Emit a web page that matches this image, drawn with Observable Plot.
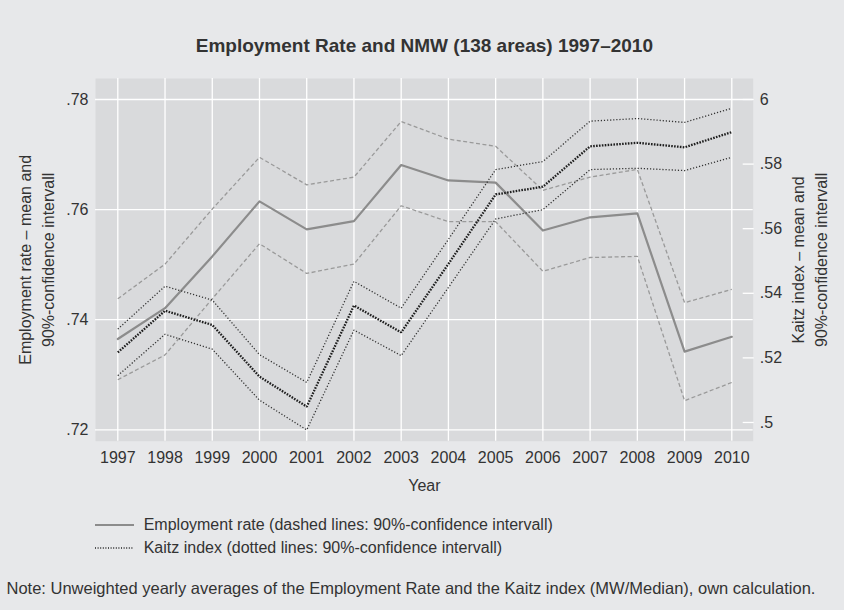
<!DOCTYPE html>
<html><head><meta charset="utf-8">
<script src="https://cdn.jsdelivr.net/npm/d3@7"></script>
<script src="https://cdn.jsdelivr.net/npm/@observablehq/plot@0.6"></script>
<style>
html,body{margin:0;padding:0;background:#e7e8ea;}
body{width:844px;height:610px;overflow:hidden;font-family:"Liberation Sans",Arial,sans-serif;color:#333;}
#chart svg{display:block;}
#below{position:relative;width:844px;height:105px;}
.row{position:absolute;height:20px;line-height:20px;font-size:16px;white-space:nowrap;}
.row svg{position:absolute;left:0;top:8px;}
.row span{position:absolute;left:49px;}
</style></head>
<body>
<div id="chart"></div>
<div id="below">
  <div class="row" style="left:94.7px;top:10px;"><svg width="40" height="4"><line x1="0" y1="2" x2="39" y2="2" stroke="#8c8c8c" stroke-width="2"/></svg><span>Employment rate (dashed lines: 90%-confidence intervall)</span></div>
  <div class="row" style="left:94.7px;top:33.3px;"><svg width="40" height="4"><line x1="0" y1="2" x2="39" y2="2" stroke="#222" stroke-width="1.3" stroke-dasharray="1,1.6"/></svg><span>Kaitz index (dotted lines: 90%-confidence intervall)</span></div>
  <div class="row" style="left:6.5px;top:72.7px;font-size:16.5px;">Note: Unweighted yearly averages of the Employment Rate and the Kaitz index (MW/Median), own calculation.</div>
</div>
<script>
const years = [1997,1998,1999,2000,2001,2002,2003,2004,2005,2006,2007,2008,2009,2010];
const empMean  = [0.7365,0.7421,0.7515,0.7615,0.7564,0.7579,0.7681,0.7653,0.7649,0.7562,0.7586,0.7593,0.7342,0.7369];
const empUpper = [0.7438,0.7501,0.7601,0.7695,0.7645,0.7659,0.7760,0.7728,0.7715,0.7635,0.7659,0.7673,0.7431,0.7455];
const empLower = [0.7291,0.7336,0.7438,0.7538,0.7484,0.7501,0.7607,0.7578,0.7578,0.7488,0.7513,0.7515,0.7253,0.7286];
const kaitzMean  = [0.5217,0.5346,0.5302,0.5142,0.5049,0.5362,0.5279,0.5491,0.5706,0.5730,0.5855,0.5866,0.5852,0.5899];
const kaitzUpper = [0.5289,0.5422,0.5379,0.5210,0.5124,0.5437,0.5354,0.5567,0.5783,0.5808,0.5933,0.5941,0.5929,0.5973];
const kaitzLower = [0.5145,0.5273,0.5227,0.5069,0.4977,0.5286,0.5207,0.5418,0.5630,0.5659,0.5783,0.5787,0.5780,0.5821];
const leftTicks = [0.72,0.74,0.76,0.78];
const leftTickLabels = [".72",".74",".76",".78"];
const kaitzTicks = [0.5,0.52,0.54,0.56,0.58,0.6];
const kaitzTickLabels = [".5",".52",".54",".56",".58","6"];

// right (Kaitz) axis aligned onto the left (employment) scale
const kToE = d3.scaleLinear().domain([0.5, 0.6]).range([0.72133, 0.78]);
const rightTicksE = kaitzTicks.map(k => kToE(k));

const rows = years.map((year, i) => ({
  year,
  empMean: empMean[i], empUpper: empUpper[i], empLower: empLower[i],
  kMean: kToE(kaitzMean[i]), kUpper: kToE(kaitzUpper[i]), kLower: kToE(kaitzLower[i])
}));

const font = "Liberation Sans, Arial, sans-serif";
const txt = "#333";
const butt = {strokeLinecap: "butt", strokeLinejoin: "miter"};

const chart = Plot.plot({
  width: 844,
  height: 505,
  marginLeft: 95,
  marginRight: 91.3,
  marginTop: 78,
  marginBottom: 64.3,
  style: {background: "transparent", fontFamily: font, fontSize: "16px", color: txt},
  x: {domain: [1997, 2010], insetLeft: 22.3, insetRight: 21.4},
  y: {domain: [0.72, 0.78], insetTop: 21, insetBottom: 11.4},
  marks: [
    Plot.frame({fill: "#d9dadc", stroke: null}),
    Plot.gridX(years, {stroke: "white", strokeOpacity: 1, strokeWidth: 1.3}),
    Plot.gridY(leftTicks, {stroke: "white", strokeOpacity: 1, strokeWidth: 1.3}),
    Plot.axisX(years, {tickSize: 0, tickPadding: 10.9, tickFormat: d => String(d), label: null, fontSize: 16, fill: txt}),
    Plot.axisY(leftTicks, {anchor: "left", tickSize: 0, tickPadding: 7, tickFormat: d => leftTickLabels[leftTicks.indexOf(d)], label: null, fontSize: 16, fill: txt}),
    Plot.axisY(rightTicksE, {anchor: "right", tickSize: 11, insetRight: 11, tickPadding: 6.6, stroke: "white", strokeWidth: 1.3, tickFormat: d => kaitzTickLabels[rightTicksE.indexOf(d)], label: null, fontSize: 16, fill: txt}),
    // employment rate
    Plot.line(rows, {x: "year", y: "empUpper", stroke: "#9a9a9a", strokeWidth: 1.3, strokeDasharray: "4,2.5", ...butt}),
    Plot.line(rows, {x: "year", y: "empLower", stroke: "#9a9a9a", strokeWidth: 1.3, strokeDasharray: "4,2.5", ...butt}),
    Plot.line(rows, {x: "year", y: "empMean", stroke: "#8c8c8c", strokeWidth: 2.2}),
    // Kaitz index
    Plot.line(rows, {x: "year", y: "kUpper", stroke: "#333", strokeWidth: 1.3, strokeDasharray: "1.2,1.9", ...butt}),
    Plot.line(rows, {x: "year", y: "kLower", stroke: "#333", strokeWidth: 1.3, strokeDasharray: "1.2,1.9", ...butt}),
    Plot.line(rows, {x: "year", y: "kMean", stroke: "#1e1e1e", strokeWidth: 2.3, strokeDasharray: "1.6,1.3", ...butt}),
    // titles
    Plot.text(["Employment Rate and NMW (138 areas) 1997–2010"], {frameAnchor: "top", dy: -39.7, fontSize: 19, fontWeight: "bold", fill: txt}),
    Plot.text(["Year"], {frameAnchor: "bottom", dy: 50, fontSize: 16, fill: txt}),
    Plot.text(["Employment rate – mean and"], {frameAnchor: "left", textAnchor: "middle", dx: -70, rotate: -90, fontSize: 16, fill: txt}),
    Plot.text(["90%-confidence intervall"], {frameAnchor: "left", textAnchor: "middle", dx: -46.7, rotate: -90, fontSize: 16, fill: txt}),
    Plot.text(["Kaitz index – mean and"], {frameAnchor: "right", textAnchor: "middle", dx: 45.6, rotate: -90, fontSize: 16, fill: txt}),
    Plot.text(["90%-confidence intervall"], {frameAnchor: "right", textAnchor: "middle", dx: 69, rotate: -90, fontSize: 16, fill: txt})
  ]
});
document.getElementById("chart").append(chart);
</script>
</body></html>
